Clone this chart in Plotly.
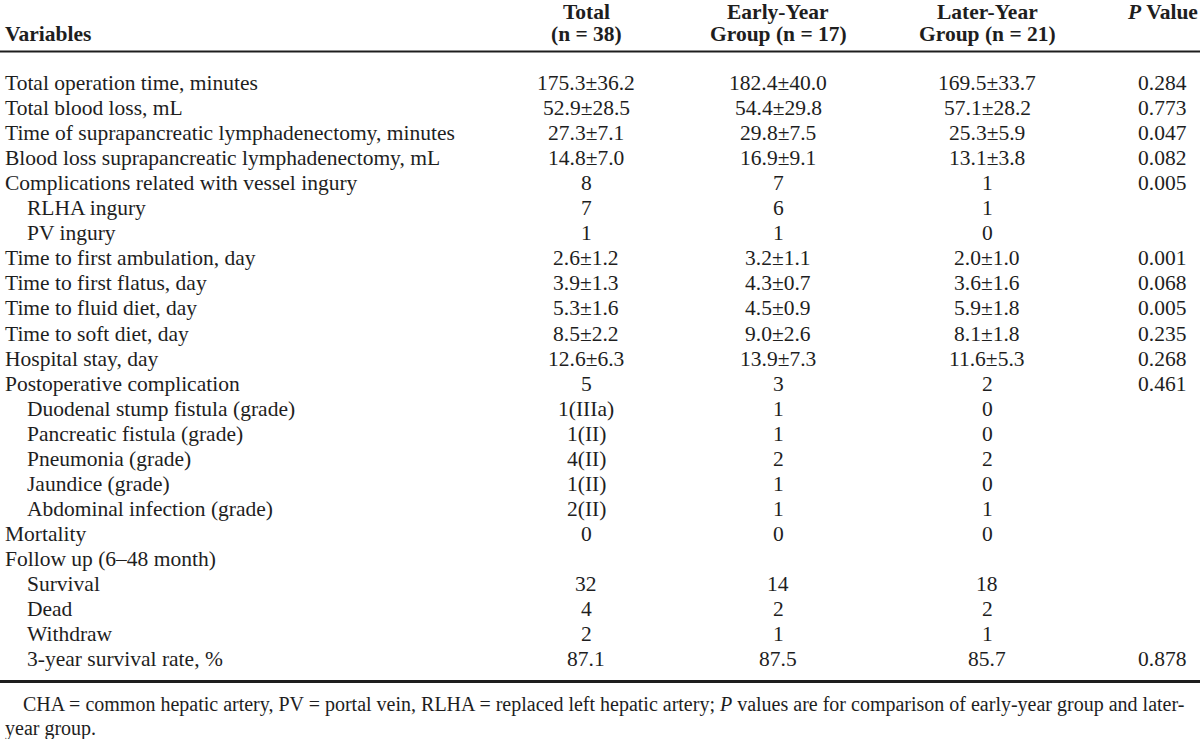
import plotly.graph_objects as go

# ---------------- data ----------------
variables = [
    "Total operation time, minutes",
    "Total blood loss, mL",
    "Time of suprapancreatic lymphadenectomy, minutes",
    "Blood loss suprapancreatic lymphadenectomy, mL",
    "Complications related with vessel ingury",
    "RLHA ingury",
    "PV ingury",
    "Time to first ambulation, day",
    "Time to first flatus, day",
    "Time to fluid diet, day",
    "Time to soft diet, day",
    "Hospital stay, day",
    "Postoperative complication",
    "Duodenal stump fistula (grade)",
    "Pancreatic fistula (grade)",
    "Pneumonia (grade)",
    "Jaundice (grade)",
    "Abdominal infection (grade)",
    "Mortality",
    "Follow up (6\u201348 month)",
    "Survival",
    "Dead",
    "Withdraw",
    "3-year survival rate, %",
]
indented = [0, 0, 0, 0, 0, 1, 1, 0, 0, 0, 0, 0, 0, 1, 1, 1, 1, 1, 0, 0, 1, 1, 1, 1]
total = ["175.3\u00b136.2", "52.9\u00b128.5", "27.3\u00b17.1", "14.8\u00b17.0", "8", "7", "1",
         "2.6\u00b11.2", "3.9\u00b11.3", "5.3\u00b11.6", "8.5\u00b12.2", "12.6\u00b16.3", "5",
         "1(IIIa)", "1(II)", "4(II)", "1(II)", "2(II)", "0", "", "32", "4", "2", "87.1"]
early = ["182.4\u00b140.0", "54.4\u00b129.8", "29.8\u00b17.5", "16.9\u00b19.1", "7", "6", "1",
         "3.2\u00b11.1", "4.3\u00b10.7", "4.5\u00b10.9", "9.0\u00b12.6", "13.9\u00b17.3", "3",
         "1", "1", "2", "1", "1", "0", "", "14", "2", "1", "87.5"]
later = ["169.5\u00b133.7", "57.1\u00b128.2", "25.3\u00b15.9", "13.1\u00b13.8", "1", "1", "0",
         "2.0\u00b11.0", "3.6\u00b11.6", "5.9\u00b11.8", "8.1\u00b11.8", "11.6\u00b15.3", "2",
         "0", "0", "2", "0", "1", "0", "", "18", "2", "1", "85.7"]
pvalue = ["0.284", "0.773", "0.047", "0.082", "0.005", "", "", "0.001", "0.068", "0.005",
          "0.235", "0.268", "0.461", "", "", "", "", "", "", "", "", "", "", "0.878"]

header_var = "Variables"
header_cols = [
    ("Total", "(n = 38)"),
    ("Early-Year", "Group (n = 17)"),
    ("Later-Year", "Group (n = 21)"),
]
header_p = "<i>P</i> Value"
footnote1 = ("CHA = common hepatic artery, PV = portal vein, RLHA = replaced left hepatic artery; "
             "<i>P</i> values are for comparison of early-year group and later-")
footnote2 = "year group."

# ---------------- layout params ----------------
FONT = "Liberation Serif, Times New Roman, serif"
COLOR = "#1e1e1e"
FS = 21.5
col_x = [586, 778, 987]
p_x = 1162
row_y0 = 83
row_dy = 25.05

fig = go.Figure()
fig.add_trace(go.Scatter(x=[0, 1200], y=[0, 739], mode="markers",
                         marker=dict(opacity=0), hoverinfo="skip", showlegend=False))

ann = []
def add(x, y, text, anchor="center", bold=False, size=FS):
    t = f"<b>{text}</b>" if bold else text
    ann.append(dict(x=x, y=y, xref="x", yref="y", text=t, showarrow=False,
                    xanchor=anchor, yanchor="middle",
                    font=dict(family=FONT, size=size, color=COLOR)))

# header
add(3, 34, header_var, anchor="left", bold=True)
for (l1, l2), cx in zip(header_cols, col_x):
    add(cx, 12, l1, bold=True)
    add(cx, 34, l2, bold=True)
add(p_x, 12, header_p, bold=True)

# body
for i, name in enumerate(variables):
    y = row_y0 + i * row_dy
    add(3 + 22 * indented[i], y, name, anchor="left")
    for vals, cx in zip((total, early, later), col_x):
        if vals[i]:
            add(cx, y, vals[i])
    if pvalue[i]:
        add(p_x, y, pvalue[i])

# footnote
add(21, 704, footnote1, anchor="left", size=20)
add(3, 728, footnote2, anchor="left", size=20)

shapes = [
    dict(type="line", xref="x", yref="y", x0=0, x1=1200, y0=51.5, y1=51.5,
         line=dict(color=COLOR, width=2)),
    dict(type="line", xref="x", yref="y", x0=0, x1=1200, y0=681.5, y1=681.5,
         line=dict(color=COLOR, width=3)),
]

fig.update_layout(
    width=1200, height=739,
    margin=dict(l=0, r=0, t=0, b=0),
    paper_bgcolor="white", plot_bgcolor="white",
    xaxis=dict(range=[0, 1200], visible=False, fixedrange=True),
    yaxis=dict(range=[739, 0], visible=False, fixedrange=True),
    annotations=ann, shapes=shapes, showlegend=False,
)

fig.write_html("out.html", config={"displayModeBar": False},
               post_script="document.body.style.margin='0';document.body.style.overflow='hidden';")
